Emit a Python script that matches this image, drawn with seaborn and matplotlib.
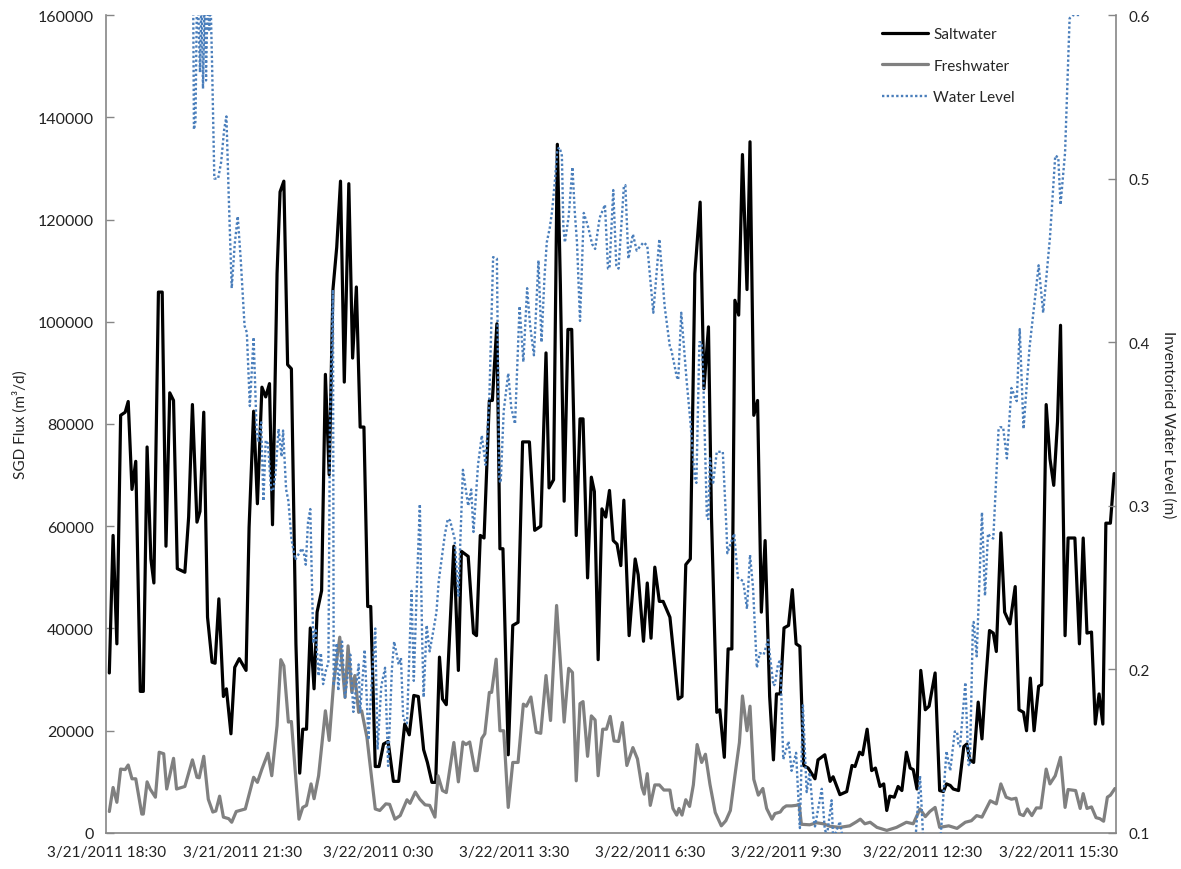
import pandas as pd
import matplotlib
matplotlib.use("Agg")
import matplotlib.pyplot as plt
import matplotlib.dates as mdates
import matplotlib.ticker as mticker
import seaborn as sns

# start of the record, all times below are minutes after this
START = pd.Timestamp("2011-03-21 18:30")

# saltwater SGD flux (m3/d)
salt_min = [4, 9, 14, 19, 25, 29, 34, 39, 45, 49, 54, 59, 63, 69, 74, 79, 84, 89, 94, 104,
            109, 114, 120, 124, 129, 134, 140, 144, 149, 155, 159, 165, 170, 176, 185, 189, 195, 200, 206, 211,
            216, 220, 226, 230, 235, 240, 245, 251, 256, 260, 265, 270, 275, 279, 285, 290, 295, 300, 305, 310,
            315, 321, 326, 331, 336, 341, 346, 350, 356, 361, 367, 373, 380, 387, 395, 401, 407, 413, 420, 425,
            431, 436, 441, 445, 450, 460, 466, 470, 479, 486, 490, 495, 500, 507, 511, 517, 521, 525, 532, 538,
            545, 551, 560, 567, 575, 582, 586, 592, 597, 601, 606, 611, 616, 622, 627, 631, 637, 642, 646, 651,
            656, 661, 666, 671, 676, 681, 685, 692, 700, 704, 711, 716, 721, 726, 732, 737, 746, 757, 762, 767,
            773, 779, 786, 791, 797, 801, 808, 812, 818, 823, 828, 832, 837, 842, 848, 852, 857, 862, 867, 872,
            878, 883, 887, 892, 897, 903, 908, 913, 918, 923, 929, 938, 942, 951, 958, 962, 971, 980, 987, 991,
            997, 1001, 1007, 1013, 1018, 1024, 1029, 1033, 1037, 1043, 1048, 1053, 1059, 1064, 1068, 1073, 1078, 1084, 1089, 1097,
            1103, 1108, 1112, 1117, 1121, 1128, 1135, 1139, 1143, 1148, 1154, 1159, 1163, 1169, 1174, 1178, 1184, 1189, 1196, 1203,
            1208, 1214, 1218, 1223, 1228, 1234, 1238, 1244, 1249, 1254, 1259, 1263, 1269, 1273, 1282, 1288, 1293, 1298, 1304, 1309,
            1314, 1319, 1323, 1329, 1334]
salt_flux = [31300, 58200, 37000, 81700, 82300, 84400, 67200, 72700, 27700, 27700, 75500, 53600, 48900, 105800, 105800, 56100, 86100, 84600, 51700, 51000,
             61800, 83800, 60800, 62900, 82300, 42200, 33400, 33200, 45800, 26700, 28200, 19400, 32400, 34100, 31800, 59800, 82500, 64400, 87200, 85300,
             87900, 60300, 109400, 125400, 127500, 91600, 90800, 37000, 11700, 20300, 20300, 40100, 28200, 43200, 47400, 89700, 70100, 106300, 114600, 127500,
             88200, 127000, 92900, 106800, 79400, 79400, 44300, 44300, 13000, 13000, 17400, 17900, 10100, 10100, 21300, 19200, 26900, 26700, 16300, 13800,
             9900, 9900, 34400, 26200, 25100, 56100, 31800, 55100, 54100, 39100, 38600, 58200, 57700, 84600, 84600, 99600, 55600, 55600, 15300, 40600,
             41200, 76500, 76500, 59200, 60000, 93900, 67500, 69100, 134700, 107300, 64900, 98500, 98500, 58200, 81000, 81000, 49900, 69600, 66800, 33900,
             63400, 61800, 67000, 57200, 56500, 52300, 65100, 38600, 53600, 50500, 37500, 48900, 38100, 52000, 45300, 45300, 42200, 26200, 26700, 52500,
             53600, 109400, 123400, 86900, 99000, 61800, 23600, 24100, 14800, 36000, 36000, 104200, 101300, 132700, 106300, 135200, 81700, 84600, 43200, 57200,
             26700, 14300, 27200, 27200, 40100, 40600, 47600, 37000, 36500, 13200, 12700, 10600, 14300, 15300, 10100, 11000, 7500, 8100, 13200, 13000,
             15800, 15300, 20300, 12200, 12700, 9100, 9600, 4400, 7200, 7000, 9100, 8300, 15800, 12700, 12400, 8600, 31800, 24100, 24800, 31300,
             8300, 8100, 9600, 9300, 8600, 8300, 16900, 17400, 14300, 13800, 25600, 18400, 27700, 39600, 39100, 35500, 58700, 43200, 40900, 48200,
             24100, 23600, 20000, 30300, 20000, 28700, 29000, 83800, 73200, 68000, 80400, 99300, 38600, 57700, 57700, 37000, 57700, 39100, 39300, 21300,
             27200, 21300, 60600, 60600, 70300]

# freshwater SGD flux (m3/d)
fresh_min = [4, 9, 14, 19, 25, 29, 34, 39, 47, 49, 54, 58, 65, 70, 76, 80, 89, 93, 104, 114,
             120, 123, 129, 135, 141, 145, 150, 155, 162, 166, 172, 184, 195, 200, 206, 214, 219, 226, 231, 235,
             241, 245, 255, 260, 265, 271, 275, 281, 290, 295, 301, 309, 316, 320, 325, 329, 334, 338, 345, 348,
             356, 362, 370, 375, 382, 389, 398, 402, 409, 415, 422, 428, 435, 439, 445, 450, 460, 466, 472, 476,
             481, 488, 491, 497, 501, 507, 510, 516, 521, 526, 532, 538, 545, 552, 556, 562, 569, 575, 582, 588,
             596, 601, 606, 612, 617, 622, 627, 631, 637, 642, 647, 651, 657, 662, 667, 672, 678, 683, 689, 697,
             703, 709, 712, 716, 720, 726, 732, 738, 746, 750, 755, 758, 762, 767, 772, 777, 782, 788, 793, 799,
             806, 814, 820, 826, 832, 838, 842, 848, 852, 857, 863, 869, 874, 881, 885, 892, 896, 900, 907, 913,
             917, 920, 931, 940, 949, 958, 971, 984, 993, 998, 1004, 1011, 1020, 1033, 1046, 1059, 1068, 1077, 1084, 1090,
             1097, 1103, 1115, 1126, 1137, 1145, 1152, 1159, 1170, 1178, 1184, 1191, 1198, 1204, 1209, 1214, 1219, 1225, 1231, 1237,
             1244, 1249, 1256, 1263, 1269, 1273, 1283, 1289, 1293, 1298, 1304, 1310, 1315, 1320, 1325, 1329, 1335]
fresh_flux = [4200, 8900, 6000, 12500, 12400, 13300, 10600, 10600, 3700, 3700, 10000, 8600, 7000, 15800, 15500, 8600, 14600, 8600, 9100, 14300,
              10900, 10800, 15000, 6600, 4100, 4300, 7200, 3100, 2800, 2100, 4200, 4700, 10900, 9900, 12500, 15600, 11200, 21000, 33900, 32700,
              21700, 21800, 2700, 5000, 5400, 9600, 6700, 11200, 23900, 18100, 29500, 38300, 26500, 36600, 27500, 30800, 23600, 23900, 18700, 14800,
              4700, 4400, 5700, 5600, 2700, 3400, 6500, 5800, 8000, 6600, 5500, 5400, 3100, 11200, 8300, 7900, 17700, 10000, 17800, 17300,
              17800, 12200, 12200, 18500, 19400, 27500, 27500, 34000, 20000, 20000, 5000, 13800, 13800, 25200, 24800, 26600, 19700, 19500, 30800, 22000,
              44500, 33500, 21700, 32200, 31400, 10200, 25300, 25700, 15000, 22900, 22100, 11200, 20300, 20300, 22800, 18000, 17900, 21600, 13200, 16700,
              14500, 8900, 7600, 11600, 5400, 9400, 9400, 8400, 8400, 4800, 3500, 4800, 3500, 6500, 5200, 9400, 17300, 13800, 15400, 9500,
              4000, 1400, 2400, 4400, 11200, 17700, 26800, 20000, 24800, 10500, 7400, 8700, 4800, 2700, 3800, 4100, 4900, 5300, 5300, 5400,
              5600, 1700, 1600, 2000, 1800, 1300, 1100, 1400, 2200, 2700, 1800, 2100, 1100, 500, 1100, 2100, 1800, 4700, 3200, 4200,
              5000, 1100, 1400, 900, 2100, 2400, 3400, 3100, 6300, 5700, 9600, 7000, 6600, 6800, 3700, 3400, 4700, 3400, 4900, 4900,
              12500, 9600, 11200, 14800, 5000, 8500, 8300, 4800, 7700, 4800, 5100, 3000, 2800, 2300, 7000, 7400, 8700]

# inventoried water level (m), logger starts late; values past 0.6 / under 0.1 fall off the axis
level_min = [115, 116, 118, 120, 122, 124, 126, 128, 130, 132, 134, 136, 138, 140, 143, 148, 152, 156, 159, 162,
             166, 170, 174, 178, 183, 186, 190, 195, 199, 201, 205, 208, 211, 214, 218, 221, 224, 228, 232, 234,
             238, 241, 245, 250, 254, 259, 262, 264, 267, 270, 274, 277, 281, 284, 287, 291, 294, 296, 300, 301,
             305, 307, 312, 316, 323, 327, 334, 336, 342, 347, 351, 356, 359, 364, 369, 373, 378, 381, 387, 390,
             393, 398, 404, 407, 411, 415, 418, 420, 424, 428, 433, 437, 440, 448, 452, 455, 461, 466, 472, 479,
             483, 486, 492, 497, 502, 507, 512, 517, 520, 522, 526, 532, 536, 541, 547, 552, 557, 561, 566, 572,
             576, 580, 583, 587, 590, 594, 597, 600, 603, 605, 607, 612, 617, 620, 623, 627, 632, 638, 643, 647,
             653, 660, 664, 666, 671, 675, 678, 685, 687, 691, 697, 702, 711, 716, 724, 732, 739, 746, 748, 755,
             757, 761, 768, 773, 779, 781, 785, 788, 790, 795, 797, 799, 803, 808, 816, 821, 822, 831, 836, 839,
             843, 848, 852, 856, 861, 865, 870, 876, 883, 885, 889, 892, 896, 903, 907, 913, 918, 922, 927, 931,
             936, 938, 947, 951, 954, 960, 962, 971, 976, 985, 995, 1010, 1030, 1050, 1070, 1077, 1081, 1086, 1104, 1112,
             1117, 1123, 1126, 1128, 1130, 1137, 1141, 1143, 1147, 1148, 1152, 1159, 1163, 1167, 1170, 1174, 1181, 1183, 1187, 1192,
             1198, 1205, 1209, 1214, 1222, 1234, 1240, 1249, 1256, 1260, 1263, 1269, 1275, 1280, 1289]
level_m = [0.61, 0.53, 0.535, 0.61, 0.60, 0.565, 0.61, 0.555, 0.61, 0.56, 0.61, 0.59, 0.61, 0.57, 0.50, 0.50, 0.51, 0.53, 0.538, 0.49,
           0.433, 0.46, 0.477, 0.45, 0.41, 0.406, 0.361, 0.403, 0.345, 0.339, 0.351, 0.303, 0.34, 0.338, 0.31, 0.309, 0.32, 0.347, 0.33, 0.346,
           0.31, 0.303, 0.28, 0.267, 0.27, 0.274, 0.27, 0.264, 0.29, 0.298, 0.216, 0.225, 0.196, 0.21, 0.191, 0.20, 0.204, 0.348, 0.432, 0.19,
           0.216, 0.187, 0.217, 0.183, 0.209, 0.174, 0.203, 0.174, 0.212, 0.157, 0.19, 0.225, 0.151, 0.19, 0.201, 0.141, 0.20, 0.217, 0.203, 0.207,
           0.170, 0.167, 0.248, 0.193, 0.25, 0.301, 0.22, 0.183, 0.227, 0.211, 0.224, 0.235, 0.254, 0.282, 0.292, 0.291, 0.280, 0.245, 0.322, 0.300,
           0.31, 0.284, 0.325, 0.343, 0.325, 0.366, 0.452, 0.451, 0.316, 0.314, 0.358, 0.381, 0.36, 0.350, 0.422, 0.388, 0.433, 0.41, 0.392, 0.450,
           0.40, 0.44, 0.461, 0.47, 0.480, 0.50, 0.518, 0.519, 0.514, 0.47, 0.461, 0.477, 0.507, 0.48, 0.461, 0.413, 0.479, 0.470, 0.46, 0.457,
           0.476, 0.484, 0.445, 0.445, 0.493, 0.447, 0.445, 0.495, 0.496, 0.451, 0.466, 0.456, 0.461, 0.459, 0.418, 0.463, 0.422, 0.397, 0.395, 0.379,
           0.377, 0.418, 0.377, 0.352, 0.316, 0.314, 0.400, 0.40, 0.380, 0.292, 0.292, 0.329, 0.313, 0.333, 0.333, 0.284, 0.271, 0.283, 0.256, 0.255,
           0.254, 0.237, 0.270, 0.25, 0.201, 0.21, 0.209, 0.218, 0.190, 0.191, 0.203, 0.206, 0.145, 0.156, 0.138, 0.149, 0.103, 0.178, 0.125, 0.137,
           0.109, 0.104, 0.127, 0.102, 0.099, 0.12, 0.096, 0.107, 0.093, 0.09, 0.085, 0.08, 0.08, 0.085, 0.09, 0.135, 0.099, 0.095, 0.096, 0.15,
           0.138, 0.162, 0.162, 0.153, 0.153, 0.192, 0.142, 0.141, 0.228, 0.229, 0.208, 0.296, 0.245, 0.283, 0.281, 0.28, 0.347, 0.348, 0.348, 0.329,
           0.372, 0.364, 0.408, 0.347, 0.397, 0.447, 0.418, 0.464, 0.514, 0.513, 0.484, 0.516, 0.598, 0.60, 0.60]

END_MIN = 1336
TICK_EVERY_H = 3
N_TICKS = 8


def to_time(minutes):
    return START + pd.to_timedelta(minutes, unit="min")


def fmt_date(x, pos):
    d = mdates.num2date(x)
    return f"{d.month}/{d.day}/{d.year} {d.hour}:{d.minute:02d}"


sns.set_style("white")
plt.rcParams["font.family"] = ["Lato", "DejaVu Sans"]
plt.rcParams["font.size"] = 11

salt = pd.DataFrame({"time": to_time(salt_min), "flux": salt_flux})
fresh = pd.DataFrame({"time": to_time(fresh_min), "flux": fresh_flux})
level = pd.DataFrame({"time": to_time(level_min), "level": level_m})

fig = plt.figure(figsize=(11.81, 8.70), dpi=100)
ax = fig.add_axes([0.0900, 0.0414, 0.8547, 0.9402])
ax2 = ax.twinx()

sns.lineplot(data=salt, x="time", y="flux", ax=ax, color="black", lw=2.3,
             estimator=None, label="Saltwater")
sns.lineplot(data=fresh, x="time", y="flux", ax=ax, color="#808080", lw=2.3,
             estimator=None, label="Freshwater")
sns.lineplot(data=level, x="time", y="level", ax=ax2, color="#4a7ebb", lw=1.7,
             linestyle=(0, (1, 1)), estimator=None, label="Water Level")

ax.set_xlim(START, to_time(END_MIN))
ax.set_ylim(0, 160000)
ax2.set_ylim(0.1, 0.6)
ax.set_yticks(range(0, 160001, 20000))
ax2.set_yticks([0.1, 0.2, 0.3, 0.4, 0.5, 0.6])
ax.set_xticks([START + pd.Timedelta(hours=TICK_EVERY_H * k) for k in range(N_TICKS)])
ax.xaxis.set_major_formatter(mticker.FuncFormatter(fmt_date))
ax.yaxis.set_major_formatter(mticker.FuncFormatter(lambda v, p: f"{int(v)}"))
ax2.yaxis.set_major_formatter(mticker.FuncFormatter(lambda v, p: f"{v:.1f}"))

axis_grey = "#868686"
for a in (ax, ax2):
    for side in a.spines:
        a.spines[side].set_visible(False)
    a.tick_params(direction="in", length=6, width=1, color=axis_grey,
                  labelsize=11, labelcolor="#222222", pad=9)
ax.tick_params(axis="y", labelsize=11.5)
ax.spines["left"].set_visible(True)
ax.spines["bottom"].set_visible(True)
ax2.spines["right"].set_visible(True)
for sp in (ax.spines["left"], ax.spines["bottom"], ax2.spines["right"]):
    sp.set_color(axis_grey)
    sp.set_linewidth(1.2)

ax.set_xlabel("")
ax.set_ylabel("SGD Flux (m³/d)", fontsize=11, va="center")
ax.yaxis.set_label_coords(-0.0855, 0.5)
ax2.set_ylabel("Inventoried Water Level (m)", fontsize=11, rotation=270, va="center")
ax2.yaxis.set_label_coords(1.0518, 0.5)

h1, l1 = ax.get_legend_handles_labels()
h2, l2 = ax2.get_legend_handles_labels()
ax.get_legend().remove()
ax2.get_legend().remove()
ax2.legend(h1 + h2, l1 + l2, loc="upper left", bbox_to_anchor=(882 / 1181, 1 - 28 / 870),
           bbox_transform=fig.transFigure, frameon=False, fontsize=11,
           handlelength=3.0, handletextpad=0.35, labelspacing=1.15,
           borderpad=0, borderaxespad=0)

fig.savefig("out.png", dpi=100)
